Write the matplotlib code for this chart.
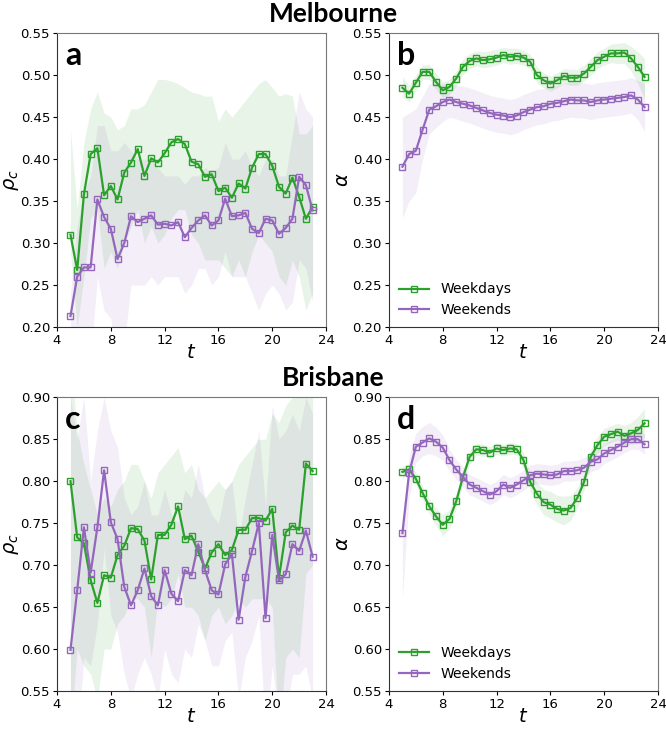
import numpy as np
import matplotlib
matplotlib.use('Agg')
import matplotlib.pyplot as plt

# hours of the day, half-hour steps from 5 to 23
t = np.arange(5, 23.01, 0.5)

# Melbourne, rho_c
mel_rho_wd = [0.310, 0.268, 0.358, 0.406, 0.413, 0.357, 0.368, 0.352, 0.384, 0.396,
              0.412, 0.380, 0.401, 0.396, 0.407, 0.420, 0.424, 0.418, 0.397, 0.394,
              0.379, 0.382, 0.362, 0.366, 0.354, 0.371, 0.365, 0.390, 0.406, 0.406,
              0.392, 0.367, 0.359, 0.378, 0.355, 0.329, 0.343]
mel_rho_wd_hi = [0.435, 0.340, 0.420, 0.460, 0.480, 0.455, 0.450, 0.435, 0.440, 0.460,
                 0.460, 0.465, 0.480, 0.495, 0.495, 0.493, 0.490, 0.485, 0.480, 0.478,
                 0.475, 0.475, 0.445, 0.460, 0.450, 0.460, 0.470, 0.480, 0.490, 0.495,
                 0.485, 0.475, 0.478, 0.475, 0.430, 0.430, 0.440]
mel_rho_wd_lo = [0.290, 0.200, 0.260, 0.330, 0.340, 0.270, 0.290, 0.270, 0.300, 0.320,
                 0.340, 0.300, 0.320, 0.300, 0.310, 0.330, 0.340, 0.340, 0.310, 0.300,
                 0.280, 0.280, 0.280, 0.270, 0.260, 0.280, 0.260, 0.290, 0.310, 0.300,
                 0.290, 0.260, 0.250, 0.280, 0.260, 0.220, 0.240]
mel_rho_we = [0.213, 0.260, 0.271, 0.271, 0.352, 0.331, 0.317, 0.281, 0.300, 0.332,
              0.325, 0.329, 0.333, 0.322, 0.323, 0.321, 0.325, 0.307, 0.318, 0.327,
              0.333, 0.321, 0.327, 0.353, 0.332, 0.333, 0.336, 0.317, 0.312, 0.329,
              0.327, 0.311, 0.318, 0.329, 0.379, 0.369, 0.339]
mel_rho_we_hi = [0.240, 0.320, 0.360, 0.380, 0.440, 0.440, 0.410, 0.410, 0.420, 0.410,
                 0.400, 0.400, 0.400, 0.390, 0.380, 0.380, 0.380, 0.370, 0.380, 0.380,
                 0.390, 0.385, 0.390, 0.420, 0.400, 0.400, 0.410, 0.390, 0.380, 0.400,
                 0.400, 0.380, 0.380, 0.430, 0.480, 0.460, 0.450]
mel_rho_we_lo = [0.180, 0.190, 0.180, 0.160, 0.260, 0.220, 0.210, 0.150, 0.180, 0.250,
                 0.250, 0.250, 0.260, 0.250, 0.260, 0.260, 0.260, 0.240, 0.250, 0.270,
                 0.270, 0.250, 0.260, 0.290, 0.260, 0.260, 0.260, 0.240, 0.220, 0.240,
                 0.250, 0.240, 0.220, 0.230, 0.280, 0.270, 0.230]

# Melbourne, alpha
mel_alp_wd = [0.485, 0.478, 0.491, 0.504, 0.504, 0.492, 0.482, 0.486, 0.496, 0.510,
              0.517, 0.520, 0.518, 0.519, 0.521, 0.524, 0.522, 0.523, 0.521, 0.516,
              0.500, 0.494, 0.490, 0.494, 0.499, 0.497, 0.497, 0.502, 0.510, 0.518,
              0.522, 0.526, 0.526, 0.527, 0.520, 0.510, 0.498]
mel_alp_wd_hi = [0.498, 0.488, 0.500, 0.512, 0.513, 0.502, 0.492, 0.495, 0.505, 0.519,
                 0.526, 0.529, 0.528, 0.529, 0.531, 0.533, 0.532, 0.532, 0.530, 0.525,
                 0.510, 0.503, 0.499, 0.503, 0.508, 0.507, 0.507, 0.512, 0.520, 0.528,
                 0.532, 0.537, 0.538, 0.539, 0.534, 0.528, 0.520]
mel_alp_wd_lo = [0.474, 0.468, 0.482, 0.495, 0.495, 0.483, 0.473, 0.477, 0.487, 0.501,
                 0.508, 0.511, 0.509, 0.510, 0.512, 0.515, 0.513, 0.514, 0.512, 0.507,
                 0.491, 0.485, 0.481, 0.485, 0.490, 0.488, 0.488, 0.493, 0.500, 0.508,
                 0.512, 0.515, 0.514, 0.514, 0.505, 0.490, 0.472]
mel_alp_we = [0.391, 0.406, 0.410, 0.435, 0.459, 0.463, 0.468, 0.471, 0.468, 0.466,
              0.464, 0.461, 0.458, 0.455, 0.453, 0.452, 0.450, 0.452, 0.456, 0.459,
              0.462, 0.463, 0.466, 0.467, 0.469, 0.471, 0.470, 0.470, 0.468, 0.470,
              0.471, 0.472, 0.473, 0.474, 0.476, 0.471, 0.462]
mel_alp_we_hi = [0.450, 0.455, 0.460, 0.475, 0.490, 0.490, 0.490, 0.490, 0.488, 0.487,
                 0.485, 0.482, 0.479, 0.476, 0.474, 0.473, 0.471, 0.473, 0.477, 0.480,
                 0.483, 0.484, 0.487, 0.488, 0.490, 0.492, 0.491, 0.491, 0.489, 0.491,
                 0.492, 0.493, 0.494, 0.495, 0.497, 0.494, 0.490]
mel_alp_we_lo = [0.330, 0.350, 0.360, 0.400, 0.430, 0.438, 0.445, 0.450, 0.448, 0.445,
                 0.443, 0.440, 0.437, 0.434, 0.432, 0.431, 0.429, 0.431, 0.435, 0.438,
                 0.441, 0.442, 0.445, 0.446, 0.448, 0.450, 0.449, 0.449, 0.447, 0.449,
                 0.450, 0.451, 0.452, 0.453, 0.455, 0.447, 0.433]

# Brisbane, rho_c
bri_rho_wd = [0.800, 0.733, 0.726, 0.682, 0.655, 0.688, 0.685, 0.712, 0.723, 0.744,
              0.743, 0.729, 0.683, 0.736, 0.736, 0.748, 0.770, 0.731, 0.735, 0.716,
              0.696, 0.715, 0.725, 0.712, 0.718, 0.742, 0.742, 0.756, 0.756, 0.753,
              0.767, 0.685, 0.739, 0.747, 0.742, 0.821, 0.812]
bri_rho_wd_hi = [0.950, 0.860, 0.820, 0.790, 0.760, 0.780, 0.770, 0.790, 0.800, 0.820,
                 0.820, 0.800, 0.780, 0.810, 0.820, 0.830, 0.840, 0.810, 0.820, 0.790,
                 0.780, 0.790, 0.800, 0.790, 0.800, 0.820, 0.830, 0.840, 0.850, 0.850,
                 0.880, 0.870, 0.890, 0.900, 0.900, 0.950, 0.950]
bri_rho_wd_lo = [0.500, 0.600, 0.580, 0.570, 0.540, 0.600, 0.600, 0.630, 0.640, 0.660,
                 0.660, 0.650, 0.590, 0.660, 0.650, 0.660, 0.690, 0.650, 0.650, 0.640,
                 0.610, 0.640, 0.650, 0.630, 0.640, 0.660, 0.650, 0.660, 0.660, 0.660,
                 0.650, 0.500, 0.590, 0.600, 0.590, 0.690, 0.700]
bri_rho_we = [0.599, 0.670, 0.745, 0.691, 0.745, 0.813, 0.751, 0.731, 0.674, 0.652,
              0.670, 0.696, 0.663, 0.652, 0.694, 0.666, 0.657, 0.694, 0.688, 0.725,
              0.694, 0.670, 0.665, 0.701, 0.713, 0.635, 0.686, 0.717, 0.750, 0.637,
              0.736, 0.682, 0.689, 0.725, 0.717, 0.741, 0.710]
bri_rho_we_hi = [0.900, 0.850, 0.900, 0.800, 0.860, 0.900, 0.860, 0.840, 0.780, 0.760,
                 0.770, 0.800, 0.760, 0.760, 0.790, 0.760, 0.750, 0.790, 0.780, 0.820,
                 0.780, 0.760, 0.750, 0.790, 0.800, 0.730, 0.780, 0.820, 0.860, 0.770,
                 0.890, 0.850, 0.860, 0.880, 0.860, 0.900, 0.880]
bri_rho_we_lo = [0.300, 0.490, 0.590, 0.580, 0.630, 0.720, 0.640, 0.620, 0.570, 0.540,
                 0.570, 0.590, 0.570, 0.540, 0.600, 0.570, 0.560, 0.600, 0.590, 0.630,
                 0.610, 0.580, 0.580, 0.610, 0.620, 0.540, 0.590, 0.610, 0.640, 0.500,
                 0.580, 0.510, 0.520, 0.570, 0.570, 0.580, 0.540]

# Brisbane, alpha
bri_alp_wd = [0.811, 0.814, 0.803, 0.786, 0.770, 0.758, 0.748, 0.755, 0.776, 0.805,
              0.829, 0.838, 0.837, 0.834, 0.839, 0.837, 0.839, 0.838, 0.825, 0.799,
              0.785, 0.775, 0.772, 0.767, 0.765, 0.768, 0.780, 0.799, 0.829, 0.843,
              0.853, 0.856, 0.859, 0.854, 0.857, 0.861, 0.869]
bri_alp_wd_hi = [0.818, 0.821, 0.810, 0.794, 0.779, 0.768, 0.760, 0.766, 0.785, 0.813,
                 0.837, 0.845, 0.844, 0.841, 0.846, 0.844, 0.846, 0.845, 0.834, 0.810,
                 0.798, 0.790, 0.788, 0.783, 0.782, 0.783, 0.792, 0.809, 0.838, 0.853,
                 0.863, 0.866, 0.869, 0.866, 0.870, 0.877, 0.886]
bri_alp_wd_lo = [0.804, 0.807, 0.796, 0.778, 0.761, 0.747, 0.735, 0.743, 0.767, 0.797,
                 0.821, 0.831, 0.830, 0.827, 0.832, 0.830, 0.832, 0.831, 0.816, 0.788,
                 0.772, 0.760, 0.756, 0.751, 0.748, 0.753, 0.768, 0.789, 0.820, 0.833,
                 0.843, 0.846, 0.849, 0.842, 0.844, 0.845, 0.852]
bri_alp_we = [0.738, 0.810, 0.841, 0.846, 0.851, 0.847, 0.840, 0.825, 0.814, 0.805,
              0.796, 0.792, 0.788, 0.784, 0.788, 0.796, 0.792, 0.796, 0.801, 0.807,
              0.809, 0.808, 0.807, 0.808, 0.812, 0.812, 0.813, 0.816, 0.823, 0.826,
              0.833, 0.837, 0.841, 0.846, 0.850, 0.850, 0.844]
bri_alp_we_hi = [0.745, 0.830, 0.857, 0.865, 0.870, 0.864, 0.855, 0.838, 0.826, 0.817,
                 0.808, 0.804, 0.800, 0.796, 0.800, 0.808, 0.804, 0.808, 0.813, 0.819,
                 0.821, 0.820, 0.819, 0.820, 0.824, 0.824, 0.825, 0.828, 0.835, 0.838,
                 0.845, 0.849, 0.853, 0.858, 0.862, 0.862, 0.856]
bri_alp_we_lo = [0.660, 0.780, 0.822, 0.830, 0.833, 0.830, 0.825, 0.812, 0.802, 0.793,
                 0.784, 0.780, 0.776, 0.772, 0.776, 0.784, 0.780, 0.784, 0.789, 0.795,
                 0.797, 0.796, 0.795, 0.796, 0.800, 0.800, 0.801, 0.804, 0.811, 0.814,
                 0.821, 0.825, 0.829, 0.834, 0.838, 0.838, 0.832]

green  = '#2ca02c'
purple = '#9467bd'

panels = [
    ('a', r'$\rho_c$', (0.20, 0.55), np.arange(0.20, 0.551, 0.05),
     (mel_rho_wd, mel_rho_wd_lo, mel_rho_wd_hi), (mel_rho_we, mel_rho_we_lo, mel_rho_we_hi), False),
    ('b', r'$\alpha$', (0.20, 0.55), np.arange(0.20, 0.551, 0.05),
     (mel_alp_wd, mel_alp_wd_lo, mel_alp_wd_hi), (mel_alp_we, mel_alp_we_lo, mel_alp_we_hi), True),
    ('c', r'$\rho_c$', (0.55, 0.90), np.arange(0.55, 0.901, 0.05),
     (bri_rho_wd, bri_rho_wd_lo, bri_rho_wd_hi), (bri_rho_we, bri_rho_we_lo, bri_rho_we_hi), False),
    ('d', r'$\alpha$', (0.55, 0.90), np.arange(0.55, 0.901, 0.05),
     (bri_alp_wd, bri_alp_wd_lo, bri_alp_wd_hi), (bri_alp_we, bri_alp_we_lo, bri_alp_we_hi), True),
]

# axes boxes in figure fractions (left, bottom, width, height)
boxes = [(0.0856, 0.5514, 0.404, 0.403),
         (0.584,  0.5514, 0.404, 0.403),
         (0.0856, 0.0521, 0.404, 0.403),
         (0.584,  0.0521, 0.404, 0.403)]

fig = plt.figure(figsize=(6.66, 7.29), dpi=100)

for (letter, ylab, ylim, yticks, wd, we, leg), box in zip(panels, boxes):
    ax = fig.add_axes(box)
    ax.fill_between(t, wd[1], wd[2], color=green, alpha=0.11, lw=0)
    ax.fill_between(t, we[1], we[2], color=purple, alpha=0.11, lw=0)
    ax.plot(t, wd[0], color=green, lw=1.6, marker='s', ms=5, mfc='none', mew=1.0, label='Weekdays')
    ax.plot(t, we[0], color=purple, lw=1.6, marker='s', ms=5, mfc='none', mew=1.0, label='Weekends')
    ax.set_xlim(4, 24)
    ax.set_ylim(*ylim)
    ax.set_xticks([4, 8, 12, 16, 20, 24])
    ax.set_yticks(yticks)
    ax.set_yticklabels([f'{v:.2f}' for v in yticks])
    ax.tick_params(labelsize=9.5, length=3, pad=2)
    ax.set_xlabel(r'$t$', fontsize=14, labelpad=-3)
    ax.set_ylabel(ylab, fontsize=14, labelpad=0)
    for s in ax.spines.values():
        s.set_color('#777777')
    ax.spines['left'].set_color('#333333')
    ax.spines['bottom'].set_color('#333333')
    ax.text(0.03, 0.975, letter, transform=ax.transAxes, fontsize=23, fontweight='bold',
            family='Lato', va='top', ha='left')
    if leg:
        ax.legend(loc='lower left', frameon=False, fontsize=10, handlelength=2.2,
                  borderaxespad=0.3)

fig.text(0.5, 0.981, 'Melbourne', ha='center', va='center', fontsize=19, fontweight='bold', family='Lato')
fig.text(0.5, 0.4815, 'Brisbane', ha='center', va='center', fontsize=19, fontweight='bold', family='Lato')

fig.savefig('out.png', dpi=100)
